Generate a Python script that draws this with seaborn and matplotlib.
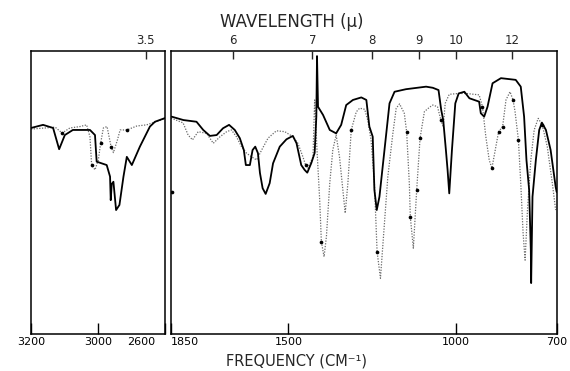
import numpy as np
import pandas as pd
import matplotlib
matplotlib.use('Agg')
import matplotlib.pyplot as plt
import matplotlib.transforms as mtransforms
import seaborn as sns

## ---- C-H stretch region (left panel), wavenumber cm-1 / transmittance %
ch_nu_solid = [3200, 3164, 3134, 3116, 3099, 3075, 3024, 3009, 3004, 2974, 2964,
               2962, 2959, 2954, 2946, 2936, 2924, 2914, 2899, 2875, 2845, 2830, 2800]
ch_T_solid  = [72.8, 73.9, 72.8, 65.3, 70.3, 72.1, 72.1, 70.3, 60.9, 59.7, 55.6,
               47.3, 53.0, 53.8, 43.8, 45.6, 55.6, 62.6, 59.7, 66.2, 73.3, 75.0, 76.3]

ch_nu_dot = [3200, 3158, 3128, 3107, 3084, 3054, 3034, 3024, 3019, 3009, 2999, 2992,
             2984, 2973, 2961, 2954, 2942, 2934, 2914, 2884, 2855, 2830, 2800]
ch_T_dot  = [72.4, 72.8, 73.1, 71.0, 72.8, 73.3, 73.9, 69.7, 59.7, 58.0, 61.5, 67.5,
             72.8, 73.3, 66.2, 64.1, 68.6, 72.1, 72.1, 73.5, 73.9, 74.9, 76.1]
ch_marks = [3107, 3019, 2992, 2961, 2914]

## ---- fingerprint region (right panel)
fp_nu_solid = [1848, 1813, 1774, 1754, 1734, 1714, 1695, 1677, 1660, 1645, 1633, 1627,
               1615, 1607, 1599, 1591, 1585, 1577, 1568, 1556, 1546, 1526, 1506, 1487,
               1476, 1462, 1452, 1444, 1432, 1422, 1417, 1415, 1412, 1397, 1377, 1358,
               1343, 1328, 1308, 1283, 1268, 1259, 1249, 1244, 1237, 1229, 1214, 1199,
               1184, 1150, 1090, 1070, 1053, 1045, 1039, 1031, 1026, 1021, 1013, 1003,
               993, 976, 961, 932, 927, 917, 907, 892, 867, 823, 808, 798, 791, 783,
               778, 777, 773, 763, 753, 745, 733, 719, 704, 701]
fp_T_solid  = [76.8, 75.6, 75.0, 72.1, 70.0, 70.3, 72.7, 73.9, 72.1, 69.2, 65.0, 59.7,
               59.7, 65.0, 66.2, 63.9, 56.9, 51.5, 49.5, 53.3, 60.3, 66.2, 68.8, 70.0,
               67.4, 59.7, 58.0, 57.0, 60.4, 64.0, 76.8, 98.2, 80.3, 77.4, 72.1, 70.9,
               73.9, 80.9, 82.7, 83.6, 82.7, 73.3, 69.7, 50.9, 43.8, 48.5, 65.0, 81.5,
               85.6, 86.5, 87.4, 87.0, 86.2, 79.2, 75.6, 65.0, 58.0, 49.7, 65.0, 81.5,
               85.0, 85.6, 83.3, 82.1, 78.0, 76.8, 80.3, 88.6, 90.4, 89.8, 87.4, 76.8,
               61.5, 50.9, 29.7, 18.0, 48.5, 61.5, 72.1, 74.7, 72.1, 65.0, 52.0, 50.2]

fp_nu_dot = [1850, 1814, 1799, 1786, 1769, 1744, 1724, 1704, 1684, 1670, 1655, 1640,
             1625, 1610, 1595, 1580, 1561, 1536, 1511, 1487, 1472, 1457, 1449, 1442,
             1427, 1422, 1415, 1407, 1402, 1394, 1387, 1377, 1368, 1358, 1348, 1338,
             1331, 1323, 1313, 1298, 1288, 1273, 1264, 1254, 1244, 1236, 1226, 1217,
             1204, 1189, 1179, 1169, 1155, 1148, 1140, 1137, 1128, 1118, 1108, 1095,
             1080, 1070, 1056, 1046, 1039, 1033, 1021, 991, 971, 932, 922, 912, 902,
             894, 884, 874, 862, 852, 840, 831, 825, 815, 808, 801, 795, 788, 778,
             768, 756, 744, 729, 714, 704]
fp_T_dot  = [76.3, 74.6, 70.3, 68.6, 71.5, 70.9, 67.4, 69.7, 71.5, 72.1, 69.7, 66.2,
             63.9, 62.6, 61.5, 65.0, 69.2, 71.8, 71.5, 69.7, 67.4, 62.6, 59.7, 58.6,
             62.6, 82.7, 65.0, 47.3, 32.6, 27.3, 34.4, 53.3, 65.0, 70.3, 62.6, 50.9,
             42.7, 53.3, 72.1, 78.5, 79.8, 79.4, 75.6, 68.6, 53.3, 29.1, 19.7, 34.4,
             55.6, 70.9, 79.8, 81.3, 78.0, 71.5, 53.3, 41.4, 30.3, 50.9, 69.2, 78.6,
             80.1, 80.9, 80.3, 75.6, 73.3, 81.5, 84.7, 85.0, 85.0, 84.5, 80.3, 69.7,
             61.5, 58.6, 65.0, 71.5, 73.3, 82.7, 85.6, 82.7, 78.6, 68.6, 53.3, 35.6,
             26.1, 43.8, 61.5, 72.1, 76.2, 73.9, 66.2, 53.3, 43.8]
fp_marks = [1449, 1402, 1313, 1236, 1148, 1137, 1118, 1108, 1046, 922, 894, 874,
            862, 831, 815, 744]
stray_nu = [1848]
stray_T  = [50.2]

## ---- axis text
ch_xticks = [3200, 3000, 2800]
ch_xlabels = ['3200', '3000', '2600']
fp_xticks = [1850, 1500, 1000, 700]
fp_xlabels = ['1850', '1500', '1000', '700']
ch_wl = [3.5]
fp_wl = [6, 7, 8, 9, 10, 12]

################################################
sns.set_style('white')
plt.rcParams['font.family'] = ['DejaVu Sans']

W, H = 570, 371
fig = plt.figure(figsize=(W/100, H/100), dpi=100)

def frac(x0, x1, ytop, ybot):
  return [x0/W, 1 - ybot/H, (x1-x0)/W, (ybot-ytop)/H]

ax_l = fig.add_axes(frac(31, 165, 51, 334))
ax_r = fig.add_axes(frac(171, 557, 51, 334))

def draw(ax, nu_s, T_s, nu_d, T_d, marks, xlim, xticks, xlabels, wl):
  sol = pd.DataFrame({'nu': nu_s, 'T': T_s})
  dot = pd.DataFrame({'nu': nu_d, 'T': T_d})
  sns.lineplot(data=dot, x='nu', y='T', ax=ax, sort=False, estimator=None,
               color='#6a6a6a', lw=0.9, linestyle=(0, (1, 1.2)))
  sns.lineplot(data=sol, x='nu', y='T', ax=ax, sort=False, estimator=None,
               color='black', lw=1.3)
  idx = [int(np.argmin(np.abs(dot['nu'].values - m))) for m in marks]
  sns.scatterplot(data=dot.iloc[idx], x='nu', y='T', ax=ax, color='black',
                  s=7, linewidth=0, zorder=5)

  ax.set_xlim(xlim)
  ax.set_ylim(0, 100)
  ax.set_xlabel('')
  ax.set_ylabel('')
  ax.set_yticks([])
  ax.set_xticks(xticks)
  ax.set_xticklabels(xlabels, fontsize=8)
  ax.tick_params(axis='x', direction='in', length=8, width=1, pad=2,
                 bottom=True, colors='black')
  for s in ax.spines.values():
    s.set_color('black'); s.set_linewidth(1.1); s.set_visible(True)

  top = ax.twiny()
  top.set_xlim(xlim)
  top.set_xticks([1e4/w for w in wl])
  top.set_xticklabels([('%g' % w) for w in wl], fontsize=8.5)
  top.tick_params(axis='x', direction='in', length=6, width=1, pad=3)
  for s in top.spines.values():
    s.set_visible(False)
  top.set_yticks([])

draw(ax_l, ch_nu_solid, ch_T_solid, ch_nu_dot, ch_T_dot, ch_marks,
     (3200, 2800), ch_xticks, ch_xlabels, ch_wl)
draw(ax_r, fp_nu_solid, fp_T_solid, fp_nu_dot, fp_T_dot, fp_marks,
     (1850, 700), fp_xticks, fp_xlabels, fp_wl)
sns.scatterplot(x=stray_nu, y=stray_T, ax=ax_r, color='black', s=7, linewidth=0)

## crowded edge labels between the two panels
lbl = ax_l.get_xticklabels()
lbl[-1].set_ha('right')
lbl[-1].set_transform(lbl[-1].get_transform() +
                      mtransforms.ScaledTranslation(-10/100, 0, fig.dpi_scale_trans))
lbl[0].set_ha('center')
rl = ax_r.get_xticklabels()
rl[0].set_ha('left')

fig.text(292/W, 1 - 22/H, 'WAVELENGTH (\u03bc)', ha='center', va='center', fontsize=12)
fig.text(297/W, 1 - 361/H, 'FREQUENCY (CM\u207b\u00b9)', ha='center', va='center',
         fontsize=10.5)

plt.savefig('out.png', dpi=100)
